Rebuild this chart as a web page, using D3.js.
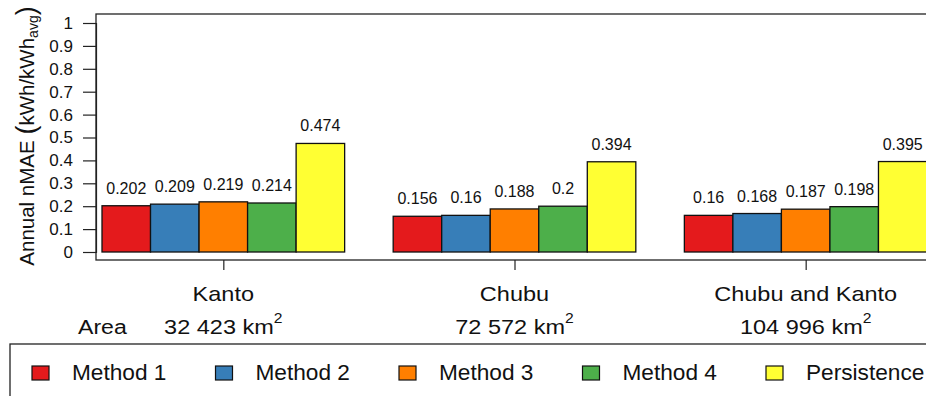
<!DOCTYPE html>
<html>
<head>
<meta charset="utf-8">
<script src="https://cdn.jsdelivr.net/npm/d3@7"></script>
<style>
  html, body { margin: 0; padding: 0; background: #fff; overflow: hidden; }
  svg { display: block; font-family: "Liberation Sans", Arial, sans-serif; }
</style>
</head>
<body>
<svg id="chart" width="926" height="396"></svg>
<script>
// Regions and their surface areas (km²)
const regions = ["Kanto", "Chubu", "Chubu and Kanto"];
const areas = ["32 423", "72 572", "104 996"];

// Forecast methods and annual nMAE per region
const methods = ["Method 1", "Method 2", "Method 3", "Method 4", "Persistence"];
const method1 = [0.202, 0.156, 0.16];
const method2 = [0.209, 0.16, 0.168];
const method3 = [0.219, 0.188, 0.187];
const method4 = [0.214, 0.2, 0.198];
const persistence = [0.474, 0.394, 0.395];
const colors = ["#E41A1C", "#377EB8", "#FF7F00", "#4DAF4A", "#FFFF33"];

// Y axis ticks
const yTicks = [0, 0.1, 0.2, 0.3, 0.4, 0.5, 0.6, 0.7, 0.8, 0.9, 1];
const yTickLabels = ["0", "0.1", "0.2", "0.3", "0.4", "0.5", "0.6", "0.7", "0.8", "0.9", "1"];

const series = [method1, method2, method3, method4, persistence];

const svg = d3.select("#chart");

// Plot frame
const box = { left: 96, top: 14, bottom: 260, right: 940 };

const y = d3.scaleLinear().domain([0, 1]).range([252, 23]);
const xGroup = d3.scaleBand().domain(regions).range([102, 927]).paddingInner(1 / 6).paddingOuter(0);
const xMethod = d3.scaleBand().domain(methods).range([0, xGroup.bandwidth()]).padding(0);
const groupCentre = r => xGroup(r) + xGroup.bandwidth() / 2;

// Bars
const groups = svg.append("g").selectAll("g")
  .data(regions)
  .join("g")
  .attr("transform", d => `translate(${xGroup(d)},0)`);

groups.selectAll("rect")
  .data((d, i) => methods.map((m, j) => ({ m, v: series[j][i], c: colors[j] })))
  .join("rect")
  .attr("x", d => xMethod(d.m))
  .attr("y", d => y(d.v))
  .attr("width", xMethod.bandwidth())
  .attr("height", d => y(0) - y(d.v))
  .attr("fill", d => d.c)
  .attr("stroke", "#111")
  .attr("stroke-width", 1.3);

// Value labels above bars
groups.selectAll("text")
  .data((d, i) => methods.map((m, j) => ({ m, v: series[j][i] })))
  .join("text")
  .attr("x", d => xMethod(d.m) + xMethod.bandwidth() / 2)
  .attr("y", d => y(d.v) - 12)
  .attr("text-anchor", "middle")
  .attr("font-size", 16)
  .attr("fill", "#111")
  .text(d => String(d.v));

// Plot box
svg.append("rect")
  .attr("x", box.left).attr("y", box.top)
  .attr("width", box.right - box.left).attr("height", box.bottom - box.top)
  .attr("fill", "none").attr("stroke", "#222").attr("stroke-width", 1.3);

// Y axis
const yAxis = d3.axisLeft(y)
  .tickValues(yTicks)
  .tickFormat((d, i) => yTickLabels[i])
  .tickSize(13)
  .tickPadding(10);
const ya = svg.append("g").attr("transform", `translate(${box.left},0)`).call(yAxis);
ya.attr("font-size", 17).attr("font-family", "Liberation Sans, Arial, sans-serif");
ya.select(".domain").attr("stroke", "#222").attr("stroke-width", 1.2);
ya.selectAll(".tick line").attr("stroke", "#222").attr("stroke-width", 1.2);
ya.selectAll(".tick text").attr("fill", "#111");

// Y axis title
const yt = svg.append("text")
  .attr("transform", "translate(34,136) rotate(-90)")
  .attr("text-anchor", "middle")
  .attr("font-size", 20.5)
  .attr("fill", "#111");
yt.append("tspan").text("Annual nMAE ");
yt.append("tspan").attr("font-size", 27).attr("dy", 1).text("(");
yt.append("tspan").attr("dy", -1).text("kWh/kWh");
yt.append("tspan").attr("font-size", 14).attr("dy", 4).text("avg");
yt.append("tspan").attr("font-size", 27).attr("dy", -3).text(")");

// Bottom ticks at group centres
const xAxis = d3.axisBottom(
    d3.scaleOrdinal().domain(regions).range(regions.map(groupCentre)))
  .tickSize(10).tickFormat("");
const xa = svg.append("g").attr("transform", `translate(0,${box.bottom})`).call(xAxis);
xa.select(".domain").remove();
xa.selectAll(".tick line").attr("stroke", "#222").attr("stroke-width", 1.2);

// Region names (slightly wide lettering)
svg.append("g").selectAll("text")
  .data(regions)
  .join("text")
  .attr("transform", d => `translate(${groupCentre(d)},301) scale(1.12,1)`)
  .attr("text-anchor", "middle")
  .attr("font-size", 21)
  .attr("fill", "#111")
  .text(d => d);

// Area row
svg.append("text")
  .attr("transform", "translate(78,334) scale(1.1,1)")
  .attr("font-size", 21).attr("fill", "#111")
  .text("Area");

const areaText = svg.append("g").selectAll("text")
  .data(regions)
  .join("text")
  .attr("transform", d => `translate(${groupCentre(d)},334) scale(1.12,1)`)
  .attr("text-anchor", "middle")
  .attr("font-size", 21)
  .attr("fill", "#111");
areaText.append("tspan").text((d, i) => areas[i] + " km");
areaText.append("tspan").attr("font-size", 14).attr("dy", -11).text("2");

// Legend
const legend = svg.append("g");
legend.append("rect")
  .attr("x", 10).attr("y", 344)
  .attr("width", 940).attr("height", 80)
  .attr("fill", "none").attr("stroke", "#222").attr("stroke-width", 1.3);

const legendX = d3.scaleLinear().domain([0, methods.length - 1]).range([32, 766]);
const items = legend.selectAll("g.item")
  .data(methods)
  .join("g")
  .attr("class", "item")
  .attr("transform", (d, i) => `translate(${legendX(i)},366)`);
items.append("rect")
  .attr("width", 17).attr("height", 14)
  .attr("fill", (d, i) => colors[i])
  .attr("stroke", "#111").attr("stroke-width", 1.2);
items.append("text")
  .attr("transform", "translate(40,14) scale(1.03,1)")
  .attr("font-size", 22).attr("fill", "#111")
  .text(d => d);
</script>
</body>
</html>
